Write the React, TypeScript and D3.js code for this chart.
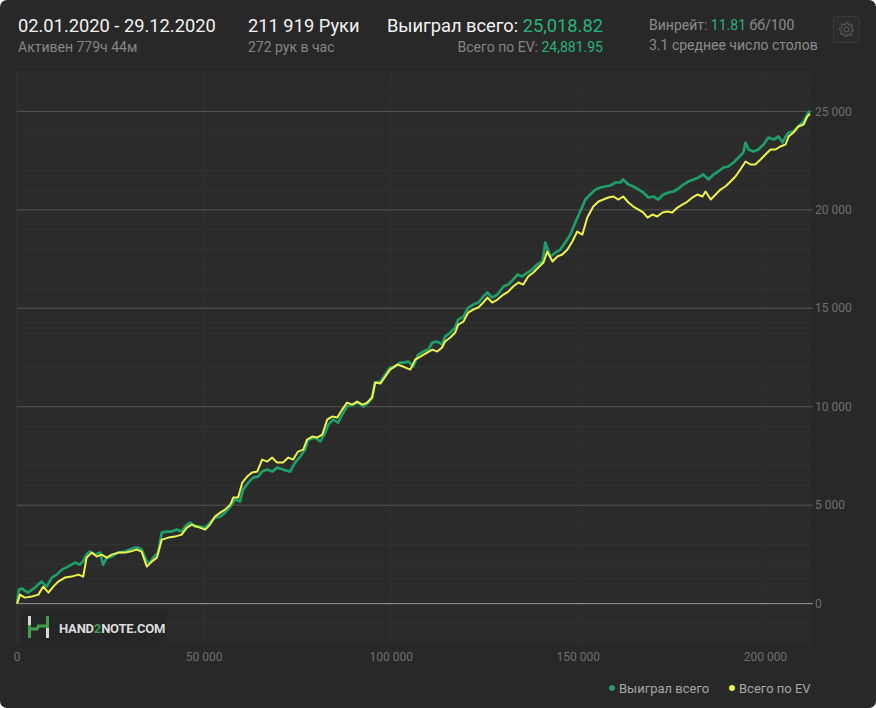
import * as d3 from 'd3'

// Cumulative winnings, [hands in thousands, dollars]
const wonTotal: [number, number][] = [
  [0, 0], [0.5, 711], [1.3, 762], [2.9, 559], [4.8, 813], [6.6, 1118], [7.9, 864], [9.3, 1321],
  [10.6, 1473], [12.0, 1727], [13.6, 1880], [15.5, 2083], [16.8, 1981], [17.6, 2134], [18.6, 2489],
  [19.5, 2642], [20.9, 2489], [22.2, 2591], [23.0, 1981], [24.0, 2337], [25.3, 2388], [27.0, 2591],
  [28.9, 2642], [30.2, 2743], [31.6, 2845], [32.4, 2845], [33.3, 2743], [34.7, 2134], [35.6, 2083],
  [36.4, 2337], [37.7, 2591], [38.7, 3607], [40.0, 3658], [41.4, 3658], [42.7, 3759], [44.0, 3658],
  [45.4, 4013], [46.3, 4115], [47.6, 3912], [48.9, 3912], [50.3, 3861], [51.6, 4115], [52.9, 4369],
  [54.3, 4420], [55.6, 4623], [57.0, 4928], [58.3, 5283], [59.6, 5182], [60.4, 5791], [61.8, 6147],
  [63.1, 6401], [64.4, 6452], [65.5, 6706], [66.9, 6807], [68.2, 6706], [69.5, 6909], [71.1, 6807],
  [73.0, 6706], [74.3, 7163], [75.7, 7468], [77.0, 7823], [77.8, 8331], [79.7, 8433], [81.0, 8230],
  [82.4, 8687], [83.2, 9093], [84.5, 9347], [85.8, 9195], [86.9, 9601], [88.2, 10008], [89.8, 10109],
  [91.2, 10211], [92.5, 10008], [93.9, 10211], [94.9, 10465], [95.7, 11227], [97.1, 11278],
  [98.4, 11633], [99.7, 11989], [101.1, 12040], [102.4, 12243], [103.2, 12243], [104.6, 12294],
  [105.9, 12040], [107.2, 12649], [108.6, 12802], [109.9, 12903], [111.0, 13259], [112.3, 13310],
  [113.6, 13157], [114.4, 13564], [115.8, 13767], [117.1, 14021], [117.9, 14427], [119.3, 14580],
  [120.6, 15037], [121.9, 15189], [123.3, 15291], [124.6, 15596], [125.7, 15799], [127.0, 15545],
  [128.4, 15697], [130.0, 16104], [131.3, 16205], [132.6, 16459], [133.7, 16713], [135.0, 16612],
  [136.4, 16815], [137.7, 16967], [139.0, 17221], [140.4, 17374], [141.2, 18339], [142.5, 17628],
  [143.9, 17831], [145.2, 17983], [146.5, 18339], [147.9, 18745], [149.2, 19355], [150.5, 19914],
  [151.9, 20523], [153.2, 20777], [154.6, 21031], [155.9, 21133], [157.2, 21184], [158.6, 21234],
  [159.9, 21387], [161.2, 21387], [162.0, 21539], [163.4, 21285], [164.7, 21184], [166.1, 21031],
  [167.4, 20879], [168.7, 20625], [170.1, 20676], [171.4, 20523], [172.7, 20777], [174.1, 20879],
  [175.4, 20930], [176.8, 21082], [178.1, 21285], [179.4, 21438], [180.8, 21539], [182.1, 21641],
  [183.4, 21793], [184.8, 21539], [186.1, 21793], [187.4, 21946], [188.8, 22149], [190.1, 22200],
  [191.5, 22403], [192.8, 22657], [194.1, 22911], [194.7, 23419], [195.5, 23063], [196.8, 22962],
  [198.1, 23063], [199.5, 23317], [200.8, 23673], [202.2, 23571], [203.5, 23724], [204.6, 23419],
  [205.4, 23724], [206.2, 23927], [207.5, 23978], [208.8, 24232], [210.2, 24486], [211.5, 24943],
  [211.919, 25019],
]

const evTotal: [number, number][] = [
  [0, 0], [0.2, 102], [0.8, 457], [2.1, 305], [3.9, 356], [5.7, 457], [7.0, 864], [8.4, 559],
  [9.7, 864], [11.0, 1118], [12.8, 1321], [14.6, 1372], [16.4, 1473], [17.7, 1372], [18.6, 2337],
  [20.0, 2591], [21.3, 2388], [22.6, 2489], [24.0, 2337], [25.3, 2489], [27.1, 2591], [28.9, 2591],
  [30.2, 2642], [32.0, 2743], [33.3, 2642], [34.7, 1880], [36.0, 2134], [37.4, 2337], [38.7, 3251],
  [40.5, 3353], [42.2, 3404], [44.0, 3505], [45.4, 3861], [46.7, 4013], [48.1, 3912], [50.3, 3759],
  [51.6, 4013], [52.9, 4420], [54.3, 4623], [55.6, 4775], [57.0, 5029], [57.8, 5385], [59.1, 5385],
  [60.2, 6147], [61.5, 6452], [62.8, 6655], [64.2, 6706], [65.5, 7315], [66.9, 7214], [68.2, 7417],
  [69.5, 7163], [71.1, 7163], [72.5, 7417], [73.8, 7315], [75.1, 7722], [76.5, 7823], [77.5, 8331],
  [78.9, 8484], [80.2, 8433], [81.6, 8585], [82.9, 9347], [84.2, 9500], [85.6, 9449], [86.9, 9855],
  [88.2, 10211], [89.6, 10109], [90.9, 10262], [92.3, 10109], [93.6, 10211], [94.9, 10465],
  [95.7, 11227], [97.1, 11176], [98.4, 11532], [99.7, 11887], [101.6, 12141], [103.2, 12040],
  [105.1, 11887], [106.4, 12395], [107.8, 12548], [109.6, 12751], [111.0, 12903], [112.3, 12802],
  [113.6, 13005], [114.4, 13310], [115.8, 13513], [117.1, 13767], [117.9, 14173], [119.3, 14326],
  [120.6, 14783], [121.9, 14935], [123.3, 15037], [124.6, 15291], [125.7, 15545], [127.0, 15291],
  [128.4, 15443], [130.0, 15697], [131.3, 15850], [132.6, 16104], [134.0, 16307], [135.3, 16205],
  [136.6, 16612], [138.0, 16815], [139.3, 17069], [140.7, 17323], [141.7, 17882], [143.1, 17374],
  [144.4, 17628], [145.7, 17729], [147.1, 17983], [148.4, 18390], [149.7, 18898], [151.1, 18745],
  [152.4, 19609], [154.0, 20168], [155.4, 20422], [156.7, 20523], [158.0, 20625], [159.4, 20676],
  [160.7, 20523], [162.0, 20676], [163.4, 20371], [164.7, 20168], [166.1, 20015], [167.4, 19863],
  [168.5, 19609], [169.8, 19761], [171.1, 19660], [172.5, 19863], [173.8, 19914], [175.1, 19863],
  [176.5, 20117], [177.8, 20269], [179.2, 20422], [180.5, 20625], [181.8, 20777], [183.2, 20676],
  [184.0, 20930], [185.4, 20523], [186.7, 20777], [188.0, 21031], [189.3, 21184], [190.7, 21438],
  [192.0, 21692], [193.3, 22047], [194.7, 22454], [196.0, 22301], [197.3, 22301], [198.7, 22555],
  [200.0, 22809], [201.4, 23063], [202.7, 23063], [204.0, 23216], [205.4, 23317], [206.2, 23724],
  [207.5, 23927], [208.8, 24232], [210.2, 24333], [211.2, 24740], [211.919, 24882],
]

const xTicks = [0, 50, 100, 150, 200]
const yTicks = [0, 5000, 10000, 15000, 20000, 25000]
const legendItems = ['Выиграл всего', 'Всего по EV']

const GREEN = '#1e9e68'
const YELLOW = '#eef24c'
const TEXT_GREEN = '#27b47a'
const FONT = 'Roboto, sans-serif'

const W = 876
const H = 708
const plot = { left: 17, right: 810, top: 72, bottom: 643 }

const fmt = d3.formatLocale({ decimal: '.', thousands: ' ', grouping: [3], currency: ['', ''] }).format(',')

function Gear({ cx, cy }: { cx: number; cy: number }) {
  const teeth = 8
  const pts: [number, number][] = []
  for (let i = 0; i < teeth * 4; i++) {
    const a = (i / (teeth * 4)) * Math.PI * 2
    const r = i % 4 < 2 ? 7 : 5.2
    pts.push([cx + r * Math.cos(a), cy + r * Math.sin(a)])
  }
  return (
    <g fill="none" stroke="#555" strokeWidth={1.2}>
      <path d={d3.line()(pts) + 'Z'} />
      <circle cx={cx} cy={cy} r={2.3} />
    </g>
  )
}

export default function App() {
  const x = d3.scaleLinear().domain([0, 211.919]).range([plot.left, plot.right])
  const y = d3.scaleLinear().domain([-2000, 27000]).range([plot.bottom, plot.top])
  const minor = d3.range(-1000, 27000, 1000).filter((v) => v % 5000 !== 0)
  const line = d3
    .line<[number, number]>()
    .x((d) => x(d[0]))
    .y((d) => y(d[1]))

  return (
    <div style={{ position: 'absolute', left: 0, top: 0 }}>
      <svg width={W} height={H} style={{ display: 'block', fontFamily: FONT }}>
        <rect width={W} height={H} fill="#ffffff" />
        <rect width={W} height={H} rx={7} fill="#282828" />

        {/* header */}
        <text x={18} y={32} fontSize={18.3} fill="#f2f2f2">02.01.2020 - 29.12.2020</text>
        <text x={18} y={52} fontSize={14} fill="#858585">Активен 779ч 44м</text>
        <text x={248} y={32} fontSize={18.3} fill="#f2f2f2">211 919 Руки</text>
        <text x={248} y={52} fontSize={14} fill="#858585">272 рук в час</text>
        <text x={603} y={32} fontSize={18.3} fill="#f2f2f2" textAnchor="end">
          Выиграл всего: <tspan fill={TEXT_GREEN}>25,018.82</tspan>
        </text>
        <text x={603} y={52} fontSize={14} fill="#858585" textAnchor="end">
          Всего по EV: <tspan fill={TEXT_GREEN}>24,881.95</tspan>
        </text>
        <text x={649} y={30} fontSize={14} fill="#8c8c8c">
          Винрейт: <tspan fill={TEXT_GREEN}>11.81</tspan> бб/100
        </text>
        <text x={649} y={50} fontSize={14} fill="#8c8c8c">3.1 среднее число столов</text>
        <rect x={833.5} y={16.5} width={26} height={26} rx={2} fill="#2c2c2c" stroke="#3a3a3a" />
        <Gear cx={846.5} cy={29.5} />

        {/* plot area */}
        <rect x={plot.left} y={plot.top} width={plot.right - plot.left} height={plot.bottom - plot.top} fill="#2b2b2b" stroke="#303030" />
        {minor.map((v) => (
          <line key={'m' + v} x1={plot.left + 6} x2={plot.right} y1={y(v)} y2={y(v)} stroke="#333333" />
        ))}
        {xTicks.map((t) => (
          <line key={'v' + t} x1={x(t)} x2={x(t)} y1={plot.top} y2={plot.bottom} stroke="#323232" />
        ))}
        {yTicks.map((t) => (
          <line
            key={'h' + t}
            x1={plot.left}
            x2={plot.right + 3}
            y1={y(t)}
            y2={y(t)}
            stroke={t === 0 ? '#9a9a9a' : '#555555'}
          />
        ))}

        {/* logo */}
        <rect x={21} y={610} width={146} height={33} fill="#262626" />
        <g>
          <rect x={28} y={616} width={3} height={9} fill="#d8d8d8" />
          <rect x={28} y={625} width={3} height={13} fill="#3f9e4c" />
          <rect x={46} y={616} width={3} height={12} fill="#3f9e4c" />
          <rect x={46} y={628} width={3} height={10} fill="#d8d8d8" />
          <path d="M29.5,629 L37,629 L38.5,626 L47.5,626" fill="none" stroke="#3f9e4c" strokeWidth={3} />
        </g>
        <text x={59} y={633} fontSize={13} fontWeight={700} fill="#dcdcdc" letterSpacing={-0.2}>
          HAND<tspan fill="#3f9e4c">2</tspan>NOTE.COM
        </text>

        {/* series */}
        <path d={line(wonTotal) ?? ''} fill="none" stroke={GREEN} strokeWidth={2.7} strokeLinejoin="round" />
        <path d={line(evTotal) ?? ''} fill="none" stroke={YELLOW} strokeWidth={2} strokeLinejoin="round" />

        {/* axes labels */}
        {yTicks.map((t) => (
          <text key={'yl' + t} x={815} y={y(t)} dy="0.35em" fontSize={12} fill="#6f6f6f">
            {fmt(t)}
          </text>
        ))}
        {xTicks.map((t) => (
          <text key={'xl' + t} x={x(t)} y={661} fontSize={12} fill="#6f6f6f" textAnchor="middle">
            {fmt(t * 1000)}
          </text>
        ))}

        {/* legend */}
        {legendItems.map((label, i) => {
          const lx = i === 0 ? 612 : 732
          return (
            <g key={label}>
              <circle cx={lx} cy={688} r={3} fill={i === 0 ? GREEN : YELLOW} />
              <text x={lx + 7} y={693} fontSize={13} fill="#a5a5a5">{label}</text>
            </g>
          )
        })}
      </svg>
    </div>
  )
}
